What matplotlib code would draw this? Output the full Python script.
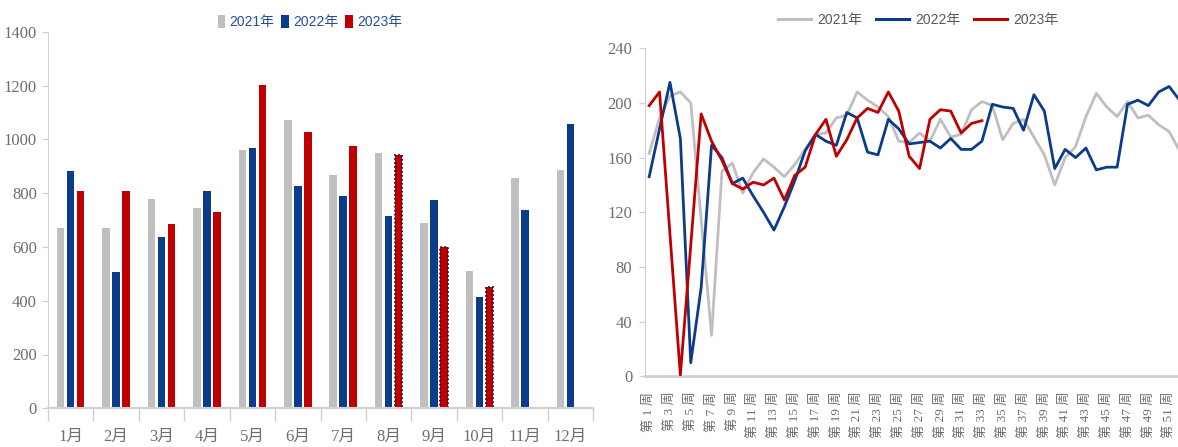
import matplotlib
matplotlib.use("Agg")
import matplotlib.pyplot as plt
from matplotlib.patches import Patch
from matplotlib.lines import Line2D
import numpy as np

# ---------------- data ----------------
months = ["1月", "2月", "3月", "4月", "5月", "6月", "7月", "8月", "9月", "10月", "11月", "12月"]
bar_2021 = [671, 670, 777, 745, 960, 1071, 867, 950, 687, 511, 857, 886]
bar_2022 = [884, 508, 635, 808, 969, 826, 789, 716, 774, 412, 736, 1057]
bar_2023 = [809, 808, 686, 730, 1201, 1027, 975, 941, 598, 450]
dotted_months_2023 = ["8月", "9月", "10月"]

weeks = list(range(1, 53))
week_labels = [f"第 {w} 周" for w in weeks]
line_2021 = [163, 189, 205, 208, 200, 115, 30, 150, 156, 134, 149, 159, 153, 146, 155, 166,
             177, 178, 189, 191, 208, 202, 197, 190, 172, 171, 178, 172, 188, 175, 177, 195,
             201, 198, 173, 185, 188, 175, 162, 140, 160, 168, 190, 207, 197, 190, 201, 189,
             191, 184, 179, 165]
line_2022 = [146, 181, 215, 174, 10, 65, 169, 160, 141, 145, 132, 120, 107, 124, 143, 165,
             177, 172, 169, 193, 189, 164, 162, 188, 181, 170, 171, 172, 167, 174, 166, 166,
             172, 199, 197, 196, 180, 206, 194, 152, 166, 160, 167, 151, 153, 153, 199, 202,
             198, 208, 212, 202]
line_2023 = [198, 208, 104, 1, 96, 192, 172, 158, 141, 137, 142, 140, 145, 129, 147, 153,
             177, 188, 161, 173, 189, 196, 193, 208, 194, 161, 152, 188, 195, 194, 178, 185, 187]
series_names = ["2021年", "2022年", "2023年"]

# ---------------- style ----------------
GRAY = "#BFBFBF"
BLUE = "#0B3C8C"
RED = "#C00000"
AXIS = "#D0D0D0"
TICKTXT = "#6E6E6E"
SERIF = ["Liberation Serif", "Noto Sans CJK SC"]
SANS = ["Liberation Sans", "Noto Sans CJK SC"]

W, H = 1178, 447
fig = plt.figure(figsize=(W / 100, H / 100), dpi=100)
fig.patch.set_facecolor("white")


def px_axes(x0, y_top, x1, y_bottom):
    return fig.add_axes([x0 / W, (H - y_bottom) / H, (x1 - x0) / W, (y_bottom - y_top) / H])


# ---------------- left: bar chart ----------------
ax1 = px_axes(48, 31.7, 593, 408.3)
x = np.arange(len(months))
bw = 0.165
off = 0.22
ax1.bar(x - off, bar_2021, width=bw, color=GRAY, zorder=2)
ax1.bar(x, bar_2022, width=bw, color=BLUE, zorder=2)
x23 = np.arange(len(bar_2023))
bars23 = ax1.bar(x23 + off, bar_2023, width=bw, color=RED, zorder=2)
for m, b in zip(months, bars23):
    if m in dotted_months_2023:
        b.set_edgecolor("#1A1A3A")
        b.set_linestyle((0, (1, 1.2)))
        b.set_linewidth(1.3)

ax1.set_xlim(-0.5, len(months) - 0.5)
ax1.set_ylim(0, 1400)
ax1.set_yticks(range(0, 1401, 200))
ax1.set_xticks(x)
ax1.set_xticklabels(months, family=SERIF, fontsize=12, color=TICKTXT)
ax1.set_xticks(np.arange(-0.5, len(months), 1), minor=True)
ax1.tick_params(axis="x", which="major", length=0, pad=15)
ax1.tick_params(axis="x", which="minor", length=9, color=AXIS, width=1)
ax1.tick_params(axis="y", length=4, color=AXIS, pad=4, labelsize=12, labelcolor=TICKTXT)
for lab in ax1.get_yticklabels():
    lab.set_family(SERIF)
for s in ["top", "right"]:
    ax1.spines[s].set_visible(False)
ax1.spines["left"].set_color(AXIS)
ax1.spines["bottom"].set_color(AXIS)
ax1.spines["bottom"].set_linewidth(1.5)
ax1.set_facecolor("white")

leg_handles = [Patch(facecolor=GRAY), Patch(facecolor=BLUE), Patch(facecolor=RED)]
leg1 = fig.legend(leg_handles, series_names, loc="center", bbox_to_anchor=(310 / W, 1 - 22 / H),
                  ncol=3, frameon=False, handlelength=0.55, handleheight=1.1, handletextpad=0.3,
                  columnspacing=0.5, prop={"family": SANS, "size": 10})
for t in leg1.get_texts():
    t.set_color("#24508F")

# ---------------- right: line chart ----------------
ax2 = px_axes(645, 48.2, 1183.7, 376.4)
ax2.plot(weeks, line_2021, color=GRAY, lw=2.0, zorder=2)
ax2.plot(weeks, line_2022, color=BLUE, lw=2.0, zorder=3)
ax2.plot(weeks[:len(line_2023)], line_2023, color=RED, lw=2.0, zorder=4)
ax2.set_xlim(0.6, 52.4)
ax2.set_ylim(0, 240)
ax2.set_yticks(range(0, 241, 40))
ax2.set_xticks(weeks[::2])
ax2.set_xticklabels(week_labels[::2], rotation=90, family=SERIF, fontsize=9.5,
                    color=TICKTXT, va="top", ha="center")
ax2.tick_params(axis="x", length=0, pad=11)
ax2.tick_params(axis="y", length=4, color=AXIS, pad=5, labelsize=12, labelcolor=TICKTXT)
for lab in ax2.get_yticklabels():
    lab.set_family(SERIF)
for s in ["top", "right"]:
    ax2.spines[s].set_visible(False)
ax2.spines["left"].set_color(AXIS)
ax2.spines["bottom"].set_color(AXIS)
ax2.spines["bottom"].set_linewidth(2)

line_handles = [Line2D([], [], color=GRAY, lw=2.2), Line2D([], [], color=BLUE, lw=2.2),
                Line2D([], [], color=RED, lw=2.2)]
leg2 = fig.legend(line_handles, series_names, loc="center", bbox_to_anchor=(918 / W, 1 - 20 / H),
                  ncol=3, frameon=False, handlelength=2.4, handletextpad=0.4,
                  columnspacing=1.0, prop={"family": SANS, "size": 10})
for t in leg2.get_texts():
    t.set_color("#595959")

fig.savefig("out.png", dpi=100, facecolor="white")
